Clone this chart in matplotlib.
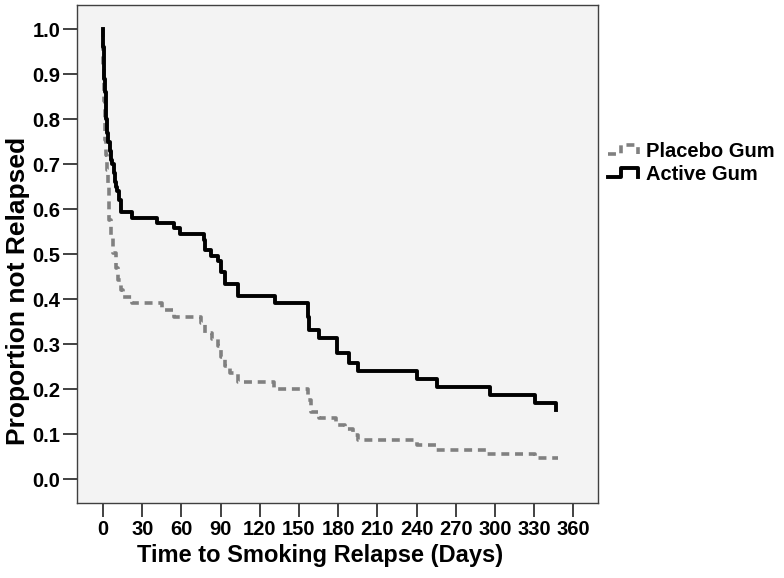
import numpy as np
import matplotlib
matplotlib.use("Agg")
import matplotlib.pyplot as plt
from matplotlib.legend_handler import HandlerBase
from matplotlib.lines import Line2D

plt.rcParams['font.family'] = ['Liberation Sans', 'DejaVu Sans']
plt.rcParams['font.weight'] = 'bold'

# Kaplan-Meier estimates (days, proportion not relapsed)
active_days = [0, 0.3, 0.7, 1, 1.5, 2, 2.5, 3, 4, 5, 6, 7, 8, 9, 10, 11, 12, 14,
               22, 41, 54, 59, 77, 78, 83, 88, 90, 93, 103, 132, 157, 158, 165,
               179, 188, 195, 240, 256, 296, 331, 347]
active_surv = [1.0, 0.96, 0.92, 0.89, 0.86, 0.83, 0.80, 0.77, 0.75, 0.73, 0.71,
               0.70, 0.68, 0.66, 0.65, 0.64, 0.62, 0.594, 0.58, 0.57, 0.558, 0.545,
               0.532, 0.51, 0.496, 0.485, 0.46, 0.434, 0.407, 0.392, 0.36, 0.331,
               0.314, 0.28, 0.258, 0.24, 0.222, 0.205, 0.187, 0.169, 0.153]

placebo_days = [0, 0.3, 0.8, 1.5, 2.2, 3, 3.8, 4.6, 6, 7.7, 9.5, 11.5, 13.5, 15.3,
                22, 45, 54, 75, 78, 83.5, 88, 90.5, 93.5, 97, 103, 131, 157, 159,
                165, 178, 185, 191.5, 195, 240.5, 255, 293, 331, 348]
placebo_surv = [1.0, 0.92, 0.84, 0.755, 0.72, 0.687, 0.65, 0.576, 0.54, 0.503, 0.47,
                0.443, 0.42, 0.405, 0.392, 0.376, 0.36, 0.347, 0.325, 0.311, 0.296,
                0.271, 0.251, 0.236, 0.215, 0.2, 0.176, 0.149, 0.136, 0.12, 0.111,
                0.098, 0.087, 0.076, 0.065, 0.056, 0.047, 0.047]

x_ticks = list(range(0, 361, 30))
y_ticks = [0.0, 0.1, 0.2, 0.3, 0.4, 0.5, 0.6, 0.7, 0.8, 0.9, 1.0]


class StepHandler(HandlerBase):  # little step glyph like the SPSS legend
    def create_artists(self, legend, orig_handle, xdescent, ydescent,
                       width, height, fontsize, trans):
        xs = np.array([0, 0.42, 0.42, 0.95, 0.95]) * width - xdescent
        ys = np.array([0.2, 0.2, 0.85, 0.85, 0.2]) * height - ydescent
        line = Line2D(xs, ys)
        line.update_from(orig_handle)
        line.set_drawstyle('default')
        line.set_clip_box(None)
        line.set_clip_on(False)
        line.set_transform(trans)
        return [line]


fig = plt.figure(figsize=(7.84, 5.78), dpi=100)
ax = fig.add_axes([0.0982, 0.1298, 0.6646, 0.8615])
ax.set_facecolor('#f3f3f3')

placebo, = ax.plot(placebo_days, placebo_surv, drawstyle='steps-post',
                   color='#808080', lw=2.6, dashes=(2.2, 1.6),
                   solid_capstyle='butt', dash_capstyle='butt')
active, = ax.plot(active_days, active_surv, drawstyle='steps-post',
                  color='black', lw=2.8)

ax.set_xlim(-20, 379)
ax.set_ylim(-0.053, 1.054)
ax.set_xticks(x_ticks)
ax.set_yticks(y_ticks)
ax.set_yticklabels(['%.1f' % v for v in y_ticks])
ax.tick_params(length=10, width=1.3, labelsize=14.5, pad=2, color='#333333')

for s in ax.spines.values():
    s.set_color('#404040')
    s.set_linewidth(1.0)

ax.set_xlabel('Time to Smoking Relapse (Days)', fontsize=17, fontweight='bold', labelpad=4)
ax.set_ylabel('Proportion not Relapsed', fontsize=19, fontweight='bold', labelpad=2)
ax.xaxis.label.set_x(0.466)
ax.yaxis.label.set_y(0.426)

fig.legend([placebo, active], ['Placebo Gum', 'Active Gum'],
           handler_map={Line2D: StepHandler()},
           loc='center left', bbox_to_anchor=(0.757, 0.718),
           frameon=False, fontsize=14.5, handlelength=1.6, handletextpad=0.3,
           labelspacing=0.2, borderpad=0.2)

plt.savefig('out.png', dpi=100)
